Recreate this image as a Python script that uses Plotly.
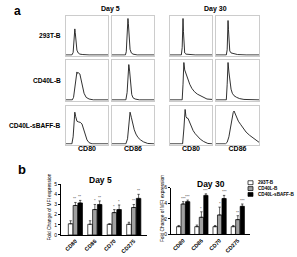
import plotly.graph_objects as go

W, H = 297, 257
FONT = "Liberation Sans"

# ---------------- Panel a : histogram curves (x, y in % of box) ----------------
h_293_d5_cd80_x = [0, 14, 17, 19, 20, 21, 22, 24, 26, 29, 33, 40, 55, 100]
h_293_d5_cd80_y = [2, 2, 8, 40, 62, 67, 58, 30, 14, 7, 4, 3, 2, 2]
h_293_d5_cd86_x = [0, 32, 34, 36, 37, 38, 39, 41, 43, 46, 50, 60, 100]
h_293_d5_cd86_y = [2, 2, 10, 55, 85, 93, 80, 40, 16, 7, 4, 2, 2]
h_293_d30_cd80_x = [0, 27, 29, 30, 31, 32, 33, 35, 38, 45, 60, 100]
h_293_d30_cd80_y = [2, 2, 20, 70, 93, 60, 20, 7, 4, 3, 2, 2]
h_293_d30_cd86_x = [0, 24, 26, 27, 28, 29, 30, 32, 35, 40, 50, 70, 100]
h_293_d30_cd86_y = [2, 2, 15, 60, 88, 65, 30, 12, 7, 5, 3, 2, 2]

h_40_d5_cd80_x = [0, 15, 18, 21, 24, 26, 28, 30, 33, 36, 39, 43, 48, 55, 65, 100]
h_40_d5_cd80_y = [2, 2, 8, 35, 62, 70, 66, 68, 65, 52, 35, 18, 8, 4, 2, 2]
h_40_d5_cd86_x = [0, 33, 36, 38, 40, 42, 44, 47, 50, 55, 65, 100]
h_40_d5_cd86_y = [2, 2, 20, 62, 88, 72, 40, 15, 7, 4, 2, 2]
h_40_d30_cd80_x = [0, 29, 31, 33, 35, 38, 40, 43, 47, 52, 58, 65, 72, 80, 88, 100]
h_40_d30_cd80_y = [2, 2, 40, 93, 75, 65, 62, 52, 40, 30, 22, 16, 12, 8, 4, 3]
h_40_d30_cd86_x = [0, 24, 26, 28, 30, 32, 35, 38, 42, 48, 55, 65, 80, 100]
h_40_d30_cd86_y = [2, 2, 40, 93, 70, 45, 28, 18, 12, 8, 5, 3, 2, 2]

h_sb_d5_cd80_x = [0, 14, 17, 19, 21, 23, 26, 30, 34, 38, 42, 46, 50, 55, 62, 100]
h_sb_d5_cd80_y = [2, 2, 20, 65, 83, 72, 60, 58, 57, 53, 40, 25, 12, 5, 2, 2]
h_sb_d5_cd86_x = [0, 33, 37, 40, 43, 46, 49, 53, 57, 62, 68, 75, 85, 100]
h_sb_d5_cd86_y = [2, 2, 15, 55, 83, 70, 52, 38, 27, 18, 12, 7, 3, 2]
h_sb_d30_cd80_x = [0, 30, 33, 35, 36, 38, 40, 43, 46, 50, 55, 60, 65, 72, 80, 90, 100]
h_sb_d30_cd80_y = [2, 2, 40, 80, 90, 72, 68, 67, 58, 47, 36, 28, 22, 14, 8, 3, 2]
h_sb_d30_cd86_x = [0, 22, 26, 30, 34, 38, 40, 42, 44, 47, 52, 57, 63, 70, 78, 86, 93, 100]
h_sb_d30_cd86_y = [2, 2, 6, 20, 45, 72, 82, 86, 80, 72, 60, 52, 42, 32, 24, 18, 12, 6]

row_labels = ["293T-B", "CD40L-B", "CD40L-sBAFF-B"]
col_labels = ["CD80", "CD86", "CD80", "CD86"]
day_labels = ["Day 5", "Day 30"]

# ---------------- Panel b : bar data ----------------
markers = ["CD80", "CD86", "CD70", "CD275"]
groups = ["293T-B", "CD40L-B", "CD40L-sBAFF-B"]
d5_293 = [1.1, 1.05, 1.05, 1.05]
d5_cd40 = [2.9, 2.5, 2.2, 2.7]
d5_sbaff = [3.15, 3.0, 2.5, 3.6]
d5_293_err = [0.3, 0.35, 0.05, 0.2]
d5_cd40_err = [0.3, 0.5, 0.3, 0.3]
d5_sbaff_err = [0.25, 0.35, 0.45, 0.4]
d30_293 = [1.0, 1.0, 1.0, 1.0]
d30_cd40 = [3.9, 2.2, 2.5, 1.9]
d30_sbaff = [4.2, 5.0, 4.6, 3.6]
d30_293_err = [0.15, 0.2, 0.15, 0.15]
d30_cd40_err = [0.3, 0.7, 1.0, 0.5]
d30_sbaff_err = [0.2, 0.2, 0.4, 0.3]
d5_sig_cd40 = ["**", "*", "*", "**"]
d5_sig_sbaff = ["**", "**", "*", "**"]
d30_sig_cd40 = ["***", "*", "*", "**"]
d30_sig_sbaff = ["***", "***", "***", "***"]
bar_colors = ["white", "#a0a0a0", "black"]


def px(x):
    return x / W


def py(y):
    return 1 - y / H


fig = go.Figure()
layout = {}

hist_curves = [
    [(h_293_d5_cd80_x, h_293_d5_cd80_y), (h_293_d5_cd86_x, h_293_d5_cd86_y),
     (h_293_d30_cd80_x, h_293_d30_cd80_y), (h_293_d30_cd86_x, h_293_d30_cd86_y)],
    [(h_40_d5_cd80_x, h_40_d5_cd80_y), (h_40_d5_cd86_x, h_40_d5_cd86_y),
     (h_40_d30_cd80_x, h_40_d30_cd80_y), (h_40_d30_cd86_x, h_40_d30_cd86_y)],
    [(h_sb_d5_cd80_x, h_sb_d5_cd80_y), (h_sb_d5_cd86_x, h_sb_d5_cd86_y),
     (h_sb_d30_cd80_x, h_sb_d30_cd80_y), (h_sb_d30_cd86_x, h_sb_d30_cd86_y)],
]
cols_px = [(66, 108), (112, 154), (170, 212), (216, 259)]
rows_px = [(13, 54), (58, 100), (105, 145)]

k = 0
for r, (yt, yb) in enumerate(rows_px):
    for c, (xl, xr) in enumerate(cols_px):
        k += 1
        sfx = "" if k == 1 else str(k)
        hx, hy = hist_curves[r][c]
        fig.add_trace(go.Scatter(x=hx, y=hy, mode="lines",
                                 line=dict(color="#1a1a1a", width=0.9),
                                 xaxis="x" + sfx, yaxis="y" + sfx,
                                 showlegend=False, hoverinfo="skip"))
        ax = dict(domain=[px(xl), px(xr)], range=[0, 100], showticklabels=False,
                  ticks="", showgrid=False, zeroline=False, showline=True,
                  mirror=True, linecolor="#cccccc", linewidth=1, fixedrange=True)
        xa = dict(ax, anchor="y" + sfx)
        if r == len(rows_px) - 1:
            xa["title"] = dict(text=col_labels[c], standoff=1,
                               font=dict(family=FONT, size=7, color="black",
                                         weight="bold"))
        layout["xaxis" + sfx] = xa
        layout["yaxis" + sfx] = dict(ax, domain=[py(yb), py(yt)], anchor="x" + sfx)

annotations = []


def txt(x, y, s, size, bold=True, xanchor="center", angle=0, color="#000000"):
    annotations.append(dict(
        x=px(x), y=py(y), xref="paper", yref="paper", showarrow=False,
        text=s, xanchor=xanchor, yanchor="middle", textangle=angle,
        font=dict(family=FONT, size=size, color=color,
                  weight="bold" if bold else "normal")))


txt(17, 8, "a", 12)
txt(22, 170, "b", 13)
txt(110, 6, day_labels[0], 7)
txt(215, 6, day_labels[1], 7)
for r, (yt, yb) in enumerate(rows_px):
    txt(63, (yt + yb) / 2, row_labels[r], 6.6, xanchor="right")

# ---------------- bar charts ----------------
bargap = 0.26
charts = [
    dict(sfx="13", dom=(61, 147), ytop=185.5, ybot=237.5, yr=5, dt=1,
         rng=[-0.74, 3.68], vals=[d5_293, d5_cd40, d5_sbaff],
         errs=[d5_293_err, d5_cd40_err, d5_sbaff_err],
         sig=[None, d5_sig_cd40, d5_sig_sbaff], title=day_labels[0], tx=100, tlx=50),
    dict(sfx="14", dom=(171, 250), ytop=189, ybot=237, yr=6, dt=2,
         rng=[-0.67, 3.67], vals=[d30_293, d30_cd40, d30_sbaff],
         errs=[d30_293_err, d30_cd40_err, d30_sbaff_err],
         sig=[None, d30_sig_cd40, d30_sig_sbaff], title=day_labels[1], tx=211, tlx=162),
]
bw = (1 - bargap) / 3
for ch in charts:
    s = ch["sfx"]
    for j in range(3):
        fig.add_trace(go.Bar(
            x=markers, y=ch["vals"][j], name=groups[j],
            marker=dict(color=bar_colors[j], line=dict(color="black", width=0.7)),
            error_y=dict(type="data", array=ch["errs"][j],
                         arrayminus=[0] * 4, symmetric=False,
                         thickness=0.6, width=1.2, color="black"),
            xaxis="x" + s, yaxis="y" + s, showlegend=False, hoverinfo="skip"))
        if ch["sig"][j] is not None:
            for i in range(4):
                annotations.append(dict(
                    x=i + (j - 1) * bw, y=ch["vals"][j][i] + ch["errs"][j][i],
                    xref="x" + s, yref="y" + s, text=ch["sig"][j][i],
                    showarrow=False, yanchor="bottom", yshift=-1,
                    font=dict(family=FONT, size=4, color="#333")))
    layout["xaxis" + s] = dict(
        domain=[px(ch["dom"][0]), px(ch["dom"][1])], anchor="y" + s,
        type="category", range=ch["rng"], showline=True, linecolor="black",
        linewidth=0.8, ticks="", tickangle=-45, showgrid=False, zeroline=False,
        tickfont=dict(family=FONT, size=5.5, color="black", weight="bold"),
        fixedrange=True)
    layout["yaxis" + s] = dict(
        domain=[py(ch["ybot"]), py(ch["ytop"])], anchor="x" + s,
        range=[0, ch["yr"]], dtick=ch["dt"], showline=True, linecolor="black",
        linewidth=0.8, ticks="outside", ticklen=2, tickwidth=0.7,
        tickcolor="black", showgrid=False, zeroline=False,
        tickfont=dict(family=FONT, size=5, color="black"), fixedrange=True)
    txt(ch["tx"], ch["ytop"] - 4, ch["title"], 8.5)
    txt(ch["tlx"], (ch["ytop"] + ch["ybot"]) / 2 - 2, "Fold Change of MFI expression",
        4.8, bold=False, angle=-90)

# custom legend
shapes = []
for j, g in enumerate(groups):
    cy = 184 + j * 6
    shapes.append(dict(type="rect", xref="paper", yref="paper",
                       x0=px(248), x1=px(253), y0=py(cy + 2), y1=py(cy - 2),
                       fillcolor=bar_colors[j], line=dict(color="black", width=0.7)))
    txt(256, cy, g, 4.6, xanchor="left")

layout.update(dict(
    width=W, height=H, margin=dict(l=0, r=0, t=0, b=0),
    paper_bgcolor="white", plot_bgcolor="white",
    barmode="group", bargap=bargap, bargroupgap=0.05,
    annotations=annotations, shapes=shapes, showlegend=False,
))
fig.update_layout(layout)
fig.write_html("out.html")
